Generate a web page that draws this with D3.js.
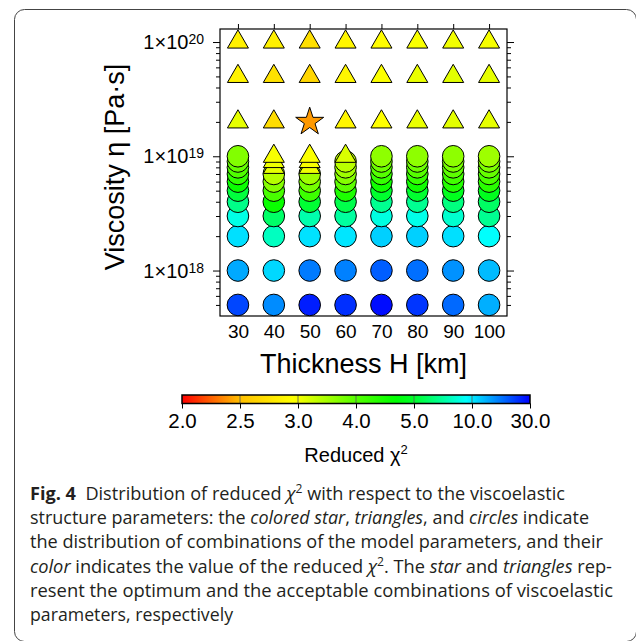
<!DOCTYPE html>
<html lang="en">

<head>
  <meta charset="UTF-8">
  <title>Reduced chi2 distribution</title>
  <style>
    html,
    body {
      margin: 0;
      background: #fff;
    }

    svg {
      display: block;
      font-family: 'Liberation Sans', Arial, sans-serif;
    }

    .caption {
      font-family: 'Open Sans', 'Noto Sans', sans-serif;
      font-size: 18px;
      fill: #231f20;
    }
  </style>
  <script src="https://cdn.jsdelivr.net/npm/d3@7"></script>
</head>

<body>
  <script>
    const width = 636
    const height = 641

    // data
    const thickness = [30, 40, 50, 60, 70, 80, 90, 100]
    const viscosity = [1e20, 5e19, 2e19, 1e19, 9e18, 8e18, 7e18, 6e18, 5e18, 4e18, 3e18, 2e18, 1e18, 5e17]
    // reduced chi2: one row per viscosity, one column per thickness
    const chi2 = [
      [2.84, 2.84, 2.72, 2.88, 2.92, 2.98, 3.03, 3.00],
      [2.86, 2.74, 2.66, 2.88, 2.96, 3.08, 3.13, 3.10],
      [3.10, 2.70, 2.40, 2.88, 2.94, 3.08, 3.12, 3.10],
      [3.72, 3.00, 2.97, 3.18, 3.65, 3.65, 3.65, 3.55],
      [3.90, 3.05, 3.00, 3.38, 3.85, 3.85, 3.80, 3.75],
      [4.05, 3.10, 3.05, 3.55, 4.00, 4.00, 3.95, 3.90],
      [4.30, 3.40, 3.55, 3.70, 4.25, 4.25, 4.15, 4.10],
      [4.60, 3.70, 3.80, 3.95, 4.55, 4.55, 4.40, 4.35],
      [5.40, 4.10, 4.20, 4.45, 5.10, 5.10, 4.90, 4.90],
      [7.00, 4.60, 5.20, 5.70, 7.20, 7.20, 6.80, 6.20],
      [9.00, 6.30, 7.80, 7.50, 8.90, 9.10, 8.50, 7.20],
      [10.8, 8.20, 10.7, 10.3, 12.2, 12.2, 10.8, 9.50],
      [15.5, 11.5, 19.5, 19.0, 22.0, 20.5, 17.5, 14.0],
      [24.0, 18.0, 27.5, 26.0, 29.0, 25.5, 21.0, 15.0]
    ]
    const acceptLimit = 3.3
    const cbarTicks = [2.0, 2.5, 3.0, 4.0, 5.0, 10.0, 30.0]
    const yMajor = [1e18, 1e19, 1e20]

    // colour stops (hue) at each colour bar tick
    const cbarHues = [0, 45, 62, 100, 130, 185, 240]
    const color = d3.scaleLinear()
      .domain(cbarTicks)
      .range(cbarHues.map(h => d3.hsl(h, 1, 0.5)))
      .interpolate(d3.interpolateHsl)

    const svg = d3.select('body').append('svg')
      .attr('width', width)
      .attr('height', height)

    // outer rounded frame of the figure box
    svg.append('rect')
      .attr('x', 14.5).attr('y', 9.5)
      .attr('width', 622).attr('height', 632)
      .attr('rx', 10)
      .attr('fill', 'none')
      .attr('stroke', '#444')

    const plot = { left: 220, right: 507, top: 29, bottom: 316 }

    const x = d3.scaleLinear().domain([25, 105]).range([plot.left, plot.right])
    const y = d3.scaleLog().domain([4e17, 1.3e20]).range([plot.bottom, plot.top])

    // minor log ticks
    const yMinor = []
    for (let e = 17; e <= 20; e++) {
      for (let m = 2; m <= 9; m++) {
        const v = m * Math.pow(10, e)
        if (v > 4e17 && v < 1.3e20) yMinor.push(v)
      }
    }

    function tidy(g) {
      g.select('.domain').remove()
      g.selectAll('.tick line').attr('stroke', '#000')
    }

    svg.append('g').attr('transform', `translate(0,${plot.top})`)
      .call(d3.axisTop(x).tickValues(thickness).tickSize(5).tickFormat(''))
      .call(tidy)

    svg.append('g').attr('transform', `translate(0,${plot.bottom})`)
      .call(d3.axisBottom(x).tickValues(thickness).tickSize(0).tickPadding(9))
      .call(tidy)
      .selectAll('text')
      .attr('font-size', 19)
      .attr('font-family', "'Liberation Sans', Arial, sans-serif")
      .attr('fill', '#000')

    const sides = [
      [d3.axisLeft, plot.left],
      [d3.axisRight, plot.right]
    ]
    sides.forEach(([axis, px]) => {
      svg.append('g').attr('transform', `translate(${px},0)`)
        .call(axis(y).tickValues(yMajor).tickSize(7).tickFormat(''))
        .call(tidy)
      svg.append('g').attr('transform', `translate(${px},0)`)
        .call(axis(y).tickValues(yMinor).tickSize(4).tickFormat(''))
        .call(tidy)
    })

    // y tick labels 1x10^n
    const yLab = svg.append('g').selectAll('text')
      .data(yMajor)
      .join('text')
      .attr('x', 204)
      .attr('y', d => y(d) + 7)
      .attr('text-anchor', 'end')
      .attr('font-size', 20)
    yLab.append('tspan').text('1×10')
    yLab.append('tspan')
      .attr('font-size', 14)
      .attr('dy', -5)
      .text(d => Math.round(Math.log10(d)))

    // plot frame
    svg.append('rect')
      .attr('x', plot.left).attr('y', plot.top)
      .attr('width', plot.right - plot.left)
      .attr('height', plot.bottom - plot.top)
      .attr('fill', 'none')
      .attr('stroke', '#000')
      .attr('stroke-width', 1.2)

    // axis titles
    svg.append('text')
      .attr('transform', 'translate(124,167) rotate(-90)')
      .attr('text-anchor', 'middle')
      .attr('font-size', 27)
      .text('Viscosity η [Pa·s]')

    svg.append('text')
      .attr('x', (plot.left + plot.right) / 2)
      .attr('y', 373)
      .attr('text-anchor', 'middle')
      .attr('font-size', 27)
      .text('Thickness H [km]')

    // points, drawn from the lowest viscosity up so upper rows sit on top
    const points = []
    viscosity.forEach((eta, i) => {
      thickness.forEach((h, j) => {
        points.push({ h, eta, v: chi2[i][j] })
      })
    })
    const best = d3.least(points, d => d.v)
    points.sort((a, b) => a.eta - b.eta)

    const triangle = d3.symbol(d3.symbolTriangle, 191)()
    const star = d3.symbol(d3.symbolStar, 243)()
    const circle = d3.symbol(d3.symbolCircle, Math.PI * 10.8 * 10.8)()

    svg.append('g').selectAll('.pt')
      .data(points)
      .join('path')
      .attr('class', 'pt')
      .attr('transform', d => `translate(${x(d.h)},${y(d.eta)})`)
      .attr('d', d => {
        if (d === best) return star
        if (d.v <= acceptLimit) return triangle
        return circle
      })
      .attr('fill', d => color(d.v))
      .attr('stroke', '#000')
      .attr('stroke-width', 1)

    // colour bar
    const cb = { x0: 182, x1: 530, y: 395, h: 8.5 }
    const cx = d3.scalePoint().domain(cbarTicks).range([cb.x0, cb.x1])

    const grad = svg.append('defs').append('linearGradient')
      .attr('id', 'cbar')
      .attr('x1', 0).attr('x2', 1).attr('y1', 0).attr('y2', 0)
    const stops = []
    for (let k = 0; k < cbarTicks.length - 1; k++) {
      for (let s = 0; s <= 10; s++) {
        const f = s / 10
        const v = cbarTicks[k] + f * (cbarTicks[k + 1] - cbarTicks[k])
        stops.push({ off: (k + f) / (cbarTicks.length - 1), c: color(v) })
      }
    }
    grad.selectAll('stop')
      .data(stops)
      .join('stop')
      .attr('offset', d => d.off)
      .attr('stop-color', d => d.c)

    svg.append('rect')
      .attr('x', cb.x0).attr('y', cb.y)
      .attr('width', cb.x1 - cb.x0).attr('height', cb.h)
      .attr('fill', 'url(#cbar)')

    svg.append('g').selectAll('line')
      .data(cbarTicks.slice(1, -1))
      .join('line')
      .attr('x1', d => cx(d)).attr('x2', d => cx(d))
      .attr('y1', cb.y).attr('y2', cb.y + cb.h)
      .attr('stroke', '#555')
      .attr('stroke-width', 0.8)

    svg.append('rect')
      .attr('x', cb.x0).attr('y', cb.y)
      .attr('width', cb.x1 - cb.x0).attr('height', cb.h)
      .attr('fill', 'none')
      .attr('stroke', '#000')
      .attr('stroke-width', 1.5)

    svg.append('g').attr('transform', `translate(0,${cb.y + cb.h})`)
      .call(d3.axisBottom(cx).tickSize(5).tickPadding(5).tickFormat(d3.format('.1f')))
      .call(tidy)
      .selectAll('text')
      .attr('font-size', 20.5)
      .attr('font-family', "'Liberation Sans', Arial, sans-serif")
      .attr('fill', '#000')

    const cbLabel = svg.append('text')
      .attr('x', 356)
      .attr('y', 462)
      .attr('text-anchor', 'middle')
      .attr('font-size', 20)
    cbLabel.append('tspan').text('Reduced χ')
    cbLabel.append('tspan').attr('font-size', 13).attr('dy', -8).text('2')

    // caption
    const captionLines = [
      [['b', 'Fig. 4'], ['', '  Distribution of reduced '], ['i', 'χ'], ['sup', '2'], ['', ' with respect to the viscoelastic']],
      [['', 'structure parameters: the '], ['i', 'colored star'], ['', ', '], ['i', 'triangles'], ['', ', and '], ['i', 'circles'], ['', ' indicate']],
      [['', 'the distribution of combinations of the model parameters, and their']],
      [['i', 'color'], ['', ' indicates the value of the reduced '], ['i', 'χ'], ['sup', '2'], ['', '. The '], ['i', 'star'], ['', ' and '], ['i', 'triangles'], ['', ' rep-']],
      [['', 'resent the optimum and the acceptable combinations of viscoelastic']],
      [['', 'parameters, respectively']]
    ]
    const captionWidths = [535, 559, 573, 582, 583, 203]

    captionLines.forEach((parts, i) => {
      const t = svg.append('text')
        .attr('class', 'caption')
        .attr('x', 30)
        .attr('y', 500 + i * 24.2)
        .attr('xml:space', 'preserve')
        .style('white-space', 'pre')
      parts.forEach(([kind, str], k) => {
        const sp = t.append('tspan').text(str)
        if (kind === 'b') sp.attr('font-weight', 'bold')
        if (kind === 'i') sp.attr('font-style', 'italic')
        if (kind === 'sup') sp.attr('font-size', 12).attr('dy', -7)
        if (k > 0 && parts[k - 1][0] === 'sup') sp.attr('dy', 7)
      })
      t.attr('textLength', captionWidths[i]).attr('lengthAdjust', 'spacingAndGlyphs')
    })
  </script>
</body>

</html>
